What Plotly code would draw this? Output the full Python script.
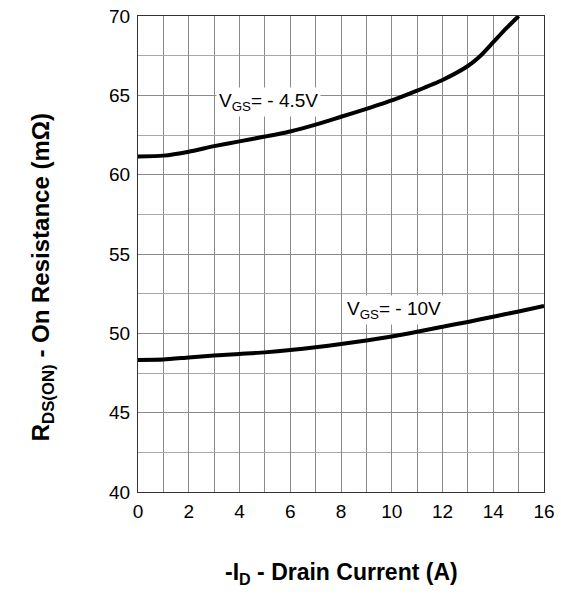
import plotly.graph_objects as go

# Data
current_a = [0, 1, 2, 3, 4, 5, 6, 7, 8, 9, 10, 11, 12, 13, 13.5, 14, 14.5, 15]
r_vgs_45 = [61.15, 61.2, 61.45, 61.8, 62.1, 62.4, 62.72, 63.15, 63.65, 64.15, 64.68, 65.3, 65.97, 66.85, 67.5, 68.35, 69.2, 70.0]

current_b = [0, 1, 2, 3, 4, 5, 6, 7, 8, 9, 10, 11, 12, 13, 14, 15, 16]
r_vgs_10 = [48.32, 48.35, 48.48, 48.6, 48.7, 48.8, 48.95, 49.12, 49.33, 49.55, 49.8, 50.1, 50.42, 50.72, 51.05, 51.38, 51.72]

x_ticks = [0, 2, 4, 6, 8, 10, 12, 14, 16]
y_ticks = [40, 45, 50, 55, 60, 65, 70]

label_45 = "V<sub>GS</sub>= - 4.5V"
label_10 = "V<sub>GS</sub>= - 10V"
x_title = "<b>-I<sub>D</sub> - Drain Current (A)</b>"
y_title = "<b>R<sub>DS(ON)</sub> - On Resistance (mΩ)</b>"

FONT = "Liberation Sans, Arial, sans-serif"

fig = go.Figure()
fig.add_trace(go.Scatter(x=current_a, y=r_vgs_45, mode="lines",
                         line=dict(color="black", width=4, shape="spline", smoothing=0.6),
                         showlegend=False, hoverinfo="skip"))
fig.add_trace(go.Scatter(x=current_b, y=r_vgs_10, mode="lines",
                         line=dict(color="black", width=4, shape="spline", smoothing=0.6),
                         showlegend=False, hoverinfo="skip"))

fig.update_xaxes(range=[0, 16], tickvals=x_ticks, ticktext=[str(v) for v in x_ticks],
                 showgrid=True, gridcolor="#8a8a8a", gridwidth=1,
                 minor=dict(dtick=1, showgrid=True, gridcolor="#8a8a8a", gridwidth=1),
                 showline=True, linecolor="#333333", linewidth=1, mirror=True,
                 ticks="", zeroline=False, ticklabelstandoff=2,
                 ticklabeloverflow="allow", automargin=False,
                 tickfont=dict(family=FONT, size=19, color="black"))
fig.update_yaxes(range=[40, 70], tickvals=y_ticks, ticktext=[str(v) for v in y_ticks],
                 showgrid=True, gridcolor="#8a8a8a", gridwidth=1,
                 minor=dict(dtick=2.5, showgrid=True, gridcolor="#a8a8a8", gridwidth=1),
                 showline=True, linecolor="#333333", linewidth=1, mirror=True,
                 ticks="", zeroline=False, ticklabelstandoff=3,
                 ticklabeloverflow="allow", automargin=False,
                 tickfont=dict(family=FONT, size=19, color="black"))

fig.add_annotation(x=5.15, y=64.55, text=label_45, showarrow=False,
                   bgcolor="white", borderpad=2,
                   font=dict(family=FONT, size=19, color="black"))
fig.add_annotation(x=10.1, y=51.5, text=label_10, showarrow=False,
                   bgcolor="white", borderpad=2,
                   font=dict(family=FONT, size=19, color="black"))

fig.add_annotation(x=0.5, y=0, xref="paper", yref="paper", yshift=-98,
                   text=x_title, showarrow=False,
                   font=dict(family=FONT, size=23, color="black"))
fig.add_annotation(x=0, y=0.45, xref="paper", yref="paper", xshift=-113,
                   text=y_title, showarrow=False, textangle=-90,
                   font=dict(family=FONT, size=24, color="black"))

fig.update_layout(width=561, height=595,
                  margin=dict(l=138, r=17, t=16, b=103),
                  paper_bgcolor="white", plot_bgcolor="white",
                  font=dict(family=FONT))

fig.write_html("out.html",
               config={"displayModeBar": False},
               post_script="document.body.style.margin='0';document.body.style.overflow='hidden';")
